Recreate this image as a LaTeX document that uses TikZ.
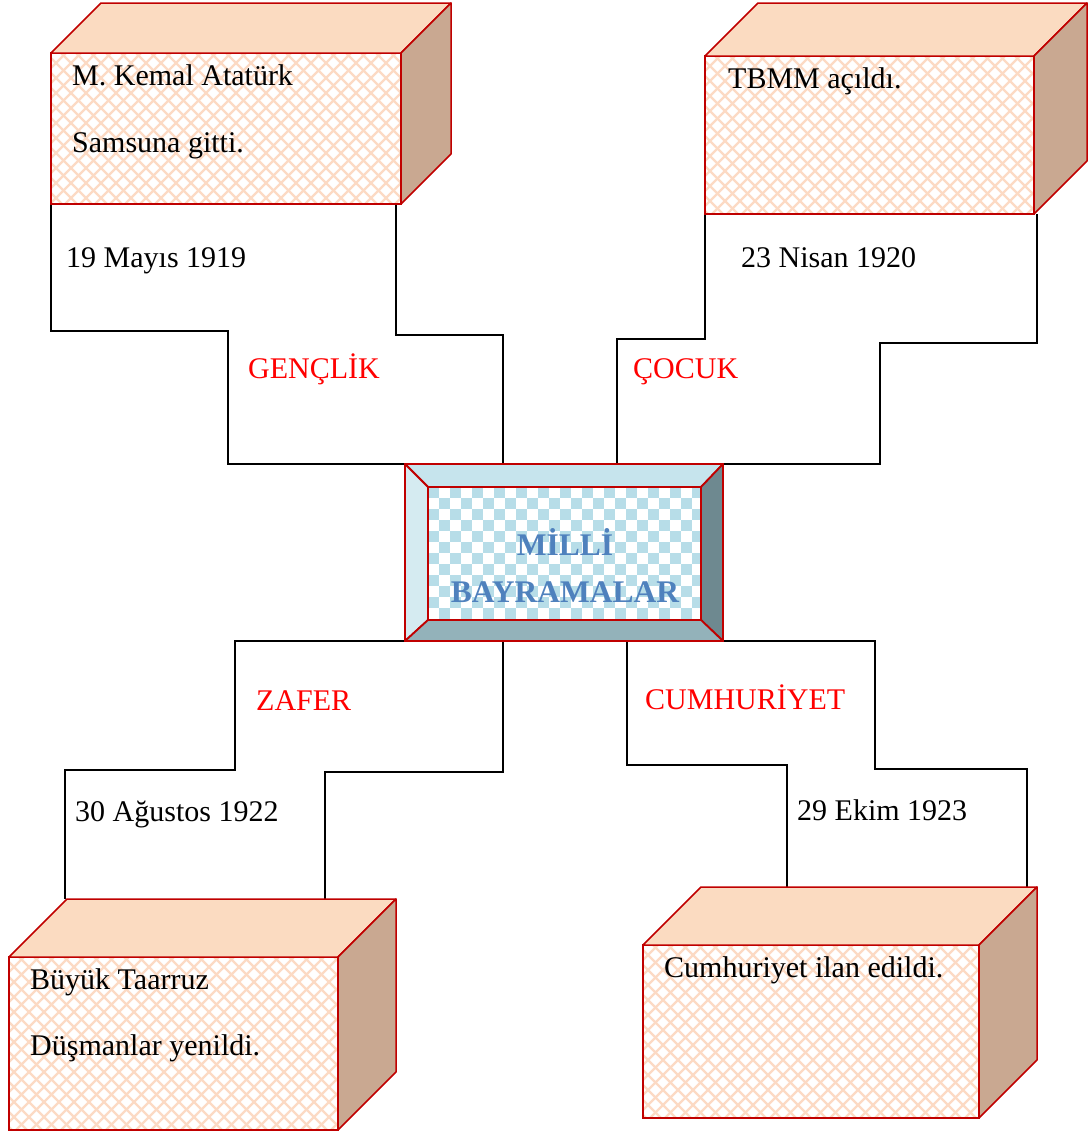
\documentclass[tikz,border=0pt]{standalone}
\usepackage{fontspec}
\setmainfont{Liberation Serif}
\usetikzlibrary{calc,backgrounds}
\definecolor{cubered}{HTML}{C00000}
\definecolor{hatchpeach}{HTML}{FCDAC4}
\definecolor{toppeach}{HTML}{FBDBC1}
\definecolor{sidetan}{HTML}{C9A891}
\definecolor{bevtop}{HTML}{C6E4ED}
\definecolor{bevleft}{HTML}{D5EBF1}
\definecolor{bevbottom}{HTML}{93B2BA}
\definecolor{bevright}{HTML}{6E8990}
\definecolor{checkblue}{HTML}{B7DDE8}
\definecolor{titleblue}{HTML}{4F81BD}
\definecolor{dayred}{HTML}{FF0000}

\begin{document}
\begin{tikzpicture}[
  x=1pt, y=-1pt,
  font=\fontsize{30}{36}\selectfont,
  front/.style={
    rectangle,
    draw=cubered,
    line width=1.5pt,
    fill=white,
    outer sep=0pt,
    inner sep=0pt,
    anchor=north west,
    path picture={
      \foreach \k in {-200,-185,...,360}{
        \draw[hatchpeach, line width=2.2pt] ($(path picture bounding box.north west)+(\k,0)$) -- ++(300,300);
      }
      \foreach \k in {0,15,...,560}{
        \draw[hatchpeach, line width=2.2pt] ($(path picture bounding box.north west)+(\k,0)$) -- ++(-300,300);
      }
    }
  },
  topface/.style={draw=cubered, line width=1.5pt, fill=toppeach, line join=round},
  sideface/.style={draw=cubered, line width=1.5pt, fill=sidetan, line join=round},
  bevel/.style={draw=cubered, line width=1.8pt, line join=round},
  plate/.style={
    rectangle,
    draw=cubered,
    line width=1.8pt,
    fill=white,
    outer sep=0pt,
    inner sep=0pt,
    anchor=north west,
    path picture={
      \foreach \i in {0,...,12}{
        \foreach \j in {0,...,6}{
          \fill[checkblue] ($(path picture bounding box.north west)+(22*\i,22*\j)$) rectangle ++(11,11);
          \fill[checkblue] ($(path picture bounding box.north west)+(22*\i+11,22*\j+11)$) rectangle ++(11,11);
        }
      }
    }
  },
  band/.style={draw=black, line width=1.8pt},
  caption/.style={anchor=base west, inner sep=0pt},
  dayname/.style={caption, text=dayred},
  title/.style={anchor=base, inner sep=0pt, font=\fontsize{31.5}{36}\selectfont\bfseries, text=titleblue}
]
\useasboundingbox (0,0) rectangle (1090,1133);

% cubes
\node[front, minimum width=350pt, minimum height=151pt] (kemal) at (51,53) {};
\draw[topface] (kemal.north west) -- ++(50,-50) -- ($(kemal.north east)+(50,-50)$) -- (kemal.north east) -- cycle;
\draw[sideface] (kemal.north east) -- ++(50,-50) -- ($(kemal.south east)+(50,-50)$) -- (kemal.south east) -- cycle;

\node[front, minimum width=329pt, minimum height=158pt] (tbmm) at (705,56) {};
\draw[topface] (tbmm.north west) -- ++(53,-53) -- ($(tbmm.north east)+(53,-53)$) -- (tbmm.north east) -- cycle;
\draw[sideface] (tbmm.north east) -- ++(53,-53) -- ($(tbmm.south east)+(53,-53)$) -- (tbmm.south east) -- cycle;

\node[front, minimum width=329pt, minimum height=173pt] (taarruz) at (9,957) {};
\draw[topface] (taarruz.north west) -- ++(58,-58) -- ($(taarruz.north east)+(58,-58)$) -- (taarruz.north east) -- cycle;
\draw[sideface] (taarruz.north east) -- ++(58,-58) -- ($(taarruz.south east)+(58,-58)$) -- (taarruz.south east) -- cycle;

\node[front, minimum width=336pt, minimum height=173pt] (ilan) at (643,945) {};
\draw[topface] (ilan.north west) -- ++(58,-58) -- ($(ilan.north east)+(58,-58)$) -- (ilan.north east) -- cycle;
\draw[sideface] (ilan.north east) -- ++(58,-58) -- ($(ilan.south east)+(58,-58)$) -- (ilan.south east) -- cycle;

% centre box
\node[rectangle, draw=cubered, line width=1.8pt, outer sep=0pt, anchor=north west,
  minimum width=318pt, minimum height=177pt] (milli) at (405,464) {};
\node[plate, minimum width=273pt, minimum height=133pt] (inner) at (428,487) {};
\draw[bevel, fill=bevtop] (milli.north west) -- (milli.north east) -- (inner.north east) -- (inner.north west) -- cycle;
\draw[bevel, fill=bevleft] (milli.north west) -- (inner.north west) -- (inner.south west) -- (milli.south west) -- cycle;
\draw[bevel, fill=bevright] (milli.north east) -- (milli.south east) -- (inner.south east) -- (inner.north east) -- cycle;
\draw[bevel, fill=bevbottom] (milli.south west) -- (inner.south west) -- (inner.south east) -- (milli.south east) -- cycle;
\node[title] (milliA) at (565,555) {MİLLİ};
\node[title] (milliB) at (565,602) {BAYRAMALAR};

% texts
\node[caption] (kemalA) at (72,85) {M. Kemal Atatürk};
\node[caption] (kemalB) at (72,152) {Samsuna gitti.};
\node[caption] (kemalday) at (66,267) {19 Mayıs 1919};
\node[dayname] (genclik) at (248,378) {GENÇLİK};

\node[caption] (tbmmA) at (728,88) {TBMM açıldı.};
\node[caption] (tbmmday) at (741,267) {23 Nisan 1920};
\node[dayname] (cocuk) at (633,378) {ÇOCUK};

\node[dayname] (zafer) at (256,710) {ZAFER};
\node[caption] (zaferday) at (75,821) {30 Ağustos 1922};
\node[caption] (taarruzA) at (30,989) {Büyük Taarruz};
\node[caption] (taarruzB) at (30,1055) {Düşmanlar yenildi.};

\node[dayname] (cumhuriyet) at (645,709) {CUMHURİYET};
\node[caption] (cumhday) at (797,820) {29 Ekim 1923};
\node[caption] (ilanA) at (664,977) {Cumhuriyet ilan edildi.};

% stepped bands
\begin{scope}[on background layer]
\draw[band] (kemal.south west) |- (228,331) |- (milli.north west) -- (503,464) |- (396,335) -- (396,204);
\draw[band] (tbmm.south west) |- (617,339) -- (617,464) -- (880,464) |- (1037,343) -- (1037,214);
\draw[band] (65,899) |- (235,770) |- (milli.south west) -- (503,641) |- (325,772) -- (325,899);
\draw[band] (787,887) |- (627,765) -- (627,641) -- (875,641) |- (1027,769) -- (1027,887);
\end{scope}

\end{tikzpicture}
\end{document}
